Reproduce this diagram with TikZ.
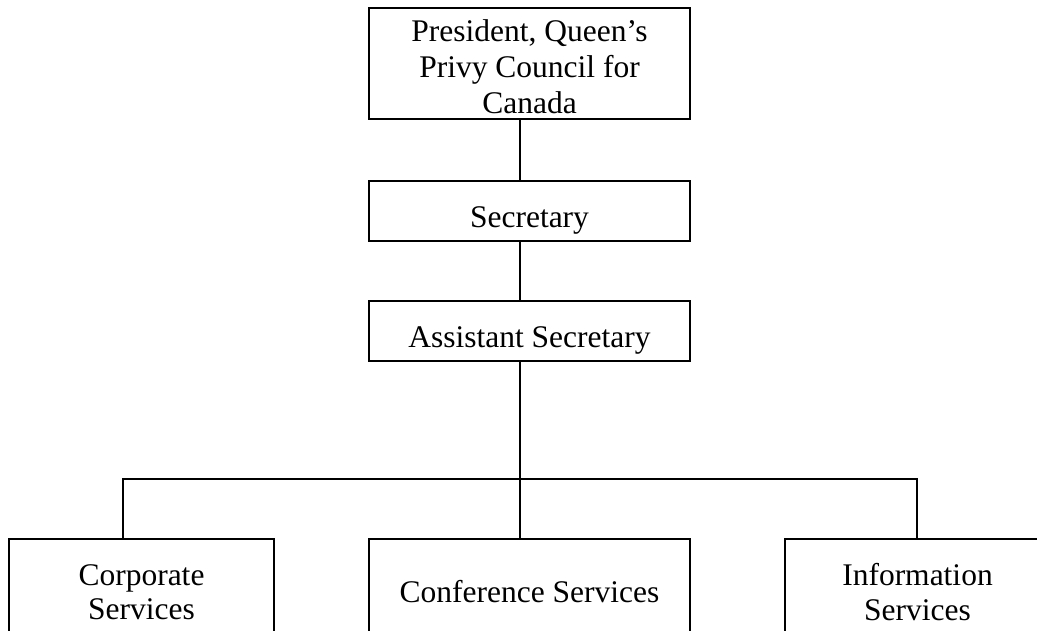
\documentclass[tikz,border=0pt]{standalone}
\usepackage{fontspec}
\setmainfont{Liberation Serif}
\begin{document}
\begin{tikzpicture}[x=1pt,y=-1pt,
  box/.style={draw=black,line width=1.6pt,inner sep=0pt,align=center,
    font=\fontsize{31.5}{34.5}\selectfont},
  wide/.style={box,minimum width=321pt},
  narrow/.style={box,minimum width=265pt},
  lowtext/.style={text height=32pt,text depth=0pt},
  conn/.style={draw=black,line width=1.6pt}]
\useasboundingbox (0,0) rectangle (1037,630);
\clip (0,0) rectangle (1037,630);
\node[wide,minimum height=111pt,font=\fontsize{31.5}{36}\selectfont] (pres) at (529.5,63.5) {\rule{0pt}{28pt}President, Queen’s\\Privy Council for\\Canada};
\node[wide,minimum height=60pt,lowtext] (sec) at (529.5,211) {Secretary};
\node[wide,minimum height=60pt,lowtext] (asst) at (529.5,331) {Assistant Secretary};
\node[narrow,minimum height=106pt] (corp) at (141.5,592) {Corporate\\Services};
\node[wide,minimum height=106pt] (conf) at (529.5,592) {Conference Services};
\node[narrow,minimum height=106pt] (info) at (917.5,592) {Information\\Services};
\coordinate (spine) at (520,0);
\coordinate (bl) at (123,479);
\coordinate (br) at (917,479);
\path[conn] (pres.south -| spine) -- (sec.north -| spine);
\path[conn] (sec.south -| spine) -- (asst.north -| spine);
\path[conn] (asst.south -| spine) -- (conf.north -| spine);
\path[conn] (corp.north -| bl) -- (bl) -- (br) -- (info.north -| br);
\end{tikzpicture}
\end{document}
